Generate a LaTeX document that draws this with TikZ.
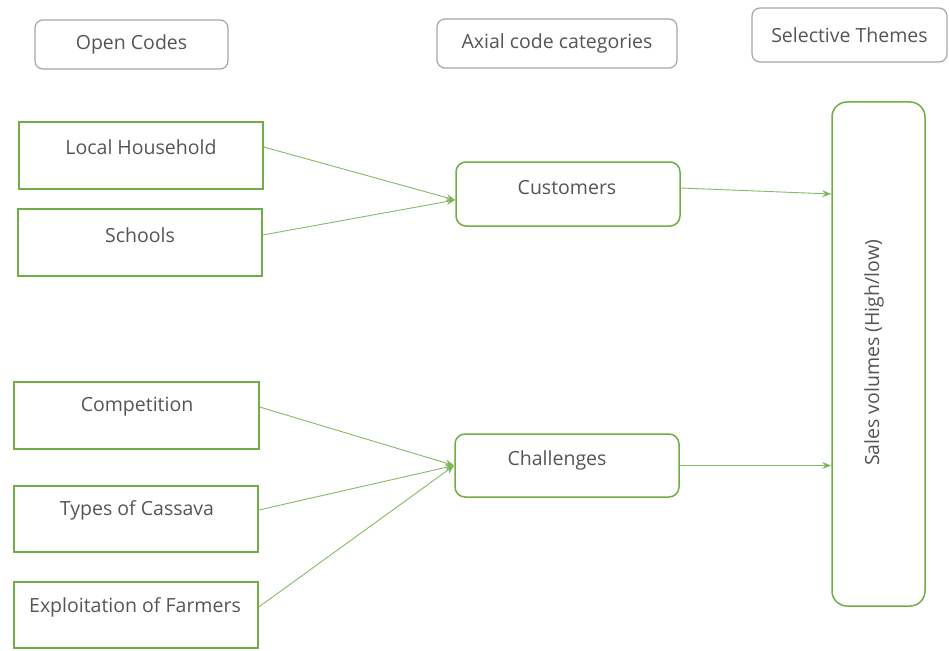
\documentclass[tikz,border=0pt]{standalone}
\usepackage{fontspec}
\setmainfont{Open Sans}
\usetikzlibrary{arrows.meta,calc}
\definecolor{gr}{HTML}{70AD47}
\definecolor{hdr}{HTML}{A6A6A6}
\definecolor{txtc}{HTML}{555555}
\begin{document}
\begin{tikzpicture}[x=1pt,y=-1pt,
  txt/.style={text=txtc,font=\fontsize{19.5}{22}\selectfont,inner sep=0pt},
  hbox/.style={draw=hdr,line width=1.2pt,rounded corners=8pt,text=txtc,font=\fontsize{19.5}{22}\selectfont},
  gbox/.style={draw=gr,line width=1.5pt},
  rbox/.style={draw=gr,line width=1.5pt,rounded corners=10pt},
  conn/.style={draw=gr!85,line width=0.9pt,-{Stealth[length=9pt,width=7pt,fill=gr]}}]
\useasboundingbox (0,0) rectangle (949,650);
% headers
\node[hbox,minimum width=193,minimum height=49] (oc) at (131.5,44.5) {Open Codes};
\node[hbox,minimum width=240,minimum height=49] (ac) at (557,43.5) {Axial code categories};
\node[hbox,minimum width=195,minimum height=54] (st) at (849.5,35) {Selective Themes};
% open codes
\node[gbox,minimum width=244,minimum height=67] (lh) at (141,155.5) {};
\node[txt] (lht) at (141,147) {Local Household};
\node[gbox,minimum width=244,minimum height=67] (sc) at (140,242.5) {};
\node[txt] (sct) at (140,235) {Schools};
\node[gbox,minimum width=245,minimum height=67] (co) at (136.5,415.5) {};
\node[txt] (cot) at (137,407) {Competition};
\node[gbox,minimum width=244,minimum height=66] (ty) at (136,519) {};
\node[txt] (tyt) at (137,510) {Types of Cassava};
\node[gbox,minimum width=244,minimum height=66] (ex) at (136,615) {};
\node[txt] (ext) at (135,607) {Exploitation of Farmers};
% axial
\node[rbox,minimum width=224,minimum height=64] (cu) at (568,194) {};
\node[txt] (cut) at (567,188) {Customers};
\node[rbox,minimum width=224,minimum height=63] (ch) at (567,465.5) {};
\node[txt] (cht) at (557,460) {Challenges};
% selective
\node[rbox,rounded corners=15pt,minimum width=93,minimum height=504] (sv) at (878.5,354) {};
\node[txt,rotate=90] (svt) at (874,353) {Sales volumes (High/low)};
% connectors
\coordinate (cuin) at ($(cu.west)+(0,6)$);
\draw[conn] (lh.east |- lht) -- (cuin);
\draw[conn] (sc.east |- sct) -- (cuin);
\draw[conn] (co.east |- cot) -- (ch.west);
\draw[conn] (ty.east |- tyt) -- (ch.west);
\draw[conn] (ex.east |- ext) -- (ch.west);
\draw[conn] (cu.east |- cut) -- (sv.west |- cu);
\draw[conn] (ch.east) -- (sv.west |- ch);
\end{tikzpicture}
\end{document}
